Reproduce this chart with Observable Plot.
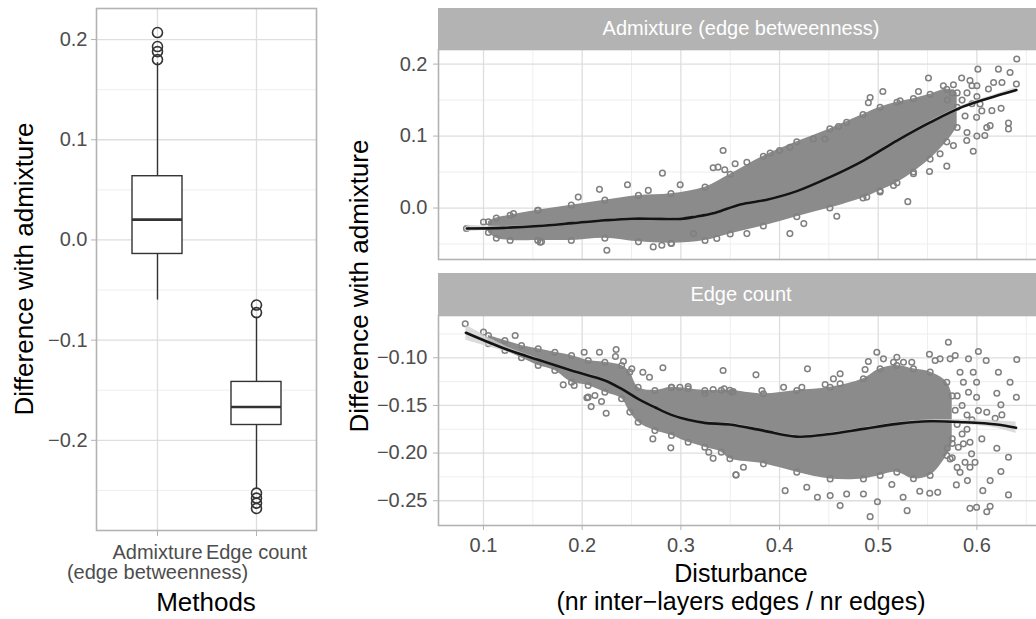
<!DOCTYPE html>
<html>
<head>
<meta charset="utf-8">
<script src="https://cdn.jsdelivr.net/npm/d3@7"></script>
<script src="https://cdn.jsdelivr.net/npm/@observablehq/plot@0.6"></script>
<style>
  html, body { margin: 0; padding: 0; background: #ffffff; overflow: hidden; }
  #c { position: relative; width: 1036px; height: 619px; overflow: hidden; background: #ffffff;
       font-family: "Liberation Sans", Arial, Helvetica, sans-serif; }
  .title { font-size: 26px; line-height: 26px; color: #000; text-align: center; white-space: nowrap; }
  .strip { background: #b3b3b3; color: #ffffff; font-size: 20px; display: flex; align-items: center; justify-content: center; white-space: nowrap; }
  svg { overflow: visible; }
</style>
</head>
<body>
<div id="c"></div>
<script>
// ---------------- Left panel: boxplot summary ----------------
const methods = ["Admixture (edge betweenness)", "Edge count"];
const methodLabels = ["Admixture\n(edge betweenness)", "Edge count"];
const boxQ1 = [-0.014, -0.1847];
const boxMedian = [0.0203, -0.1667];
const boxQ3 = [0.0636, -0.1417];
const boxWhiskerLo = [-0.060, -0.249];
const boxWhiskerHi = [0.177, -0.077];
const outlierMethod = [0, 0, 0, 0, 1, 1, 1, 1, 1, 1];
const outlierValue = [0.207, 0.193, 0.188, 0.180, -0.065, -0.0725, -0.2527, -0.2577, -0.2627, -0.268];
const leftMajor = [-0.2, -0.1, 0.0, 0.1, 0.2];
const leftMinor = [-0.25, -0.15, -0.05, 0.05, 0.15];

// ---------------- Right panels: scatter (dense band envelope + sparse points) + smooth ----------------
const xMajor = [0.1, 0.2, 0.3, 0.4, 0.5, 0.6];
const xMinor = [0.15, 0.25, 0.35, 0.45, 0.55, 0.65];

// Facet 1: Admixture (edge betweenness)
const topMajor = [0.0, 0.1, 0.2];
const topMinor = [-0.05, 0.05, 0.15];
const topEnvX  = [0.105, 0.113, 0.127, 0.155, 0.189, 0.223, 0.257, 0.290, 0.3245, 0.35, 0.3836, 0.4175, 0.451, 0.4846, 0.5019, 0.519, 0.5357, 0.5526, 0.5695, 0.58];
const topEnvHi = [-0.019, -0.014, -0.010, -0.003, 0.004, 0.011, 0.0176, 0.020, 0.029, 0.047, 0.072, 0.092, 0.110, 0.130, 0.140, 0.147, 0.152, 0.158, 0.165, 0.160];
const topEnvLo = [-0.034, -0.042, -0.045, -0.045, -0.045, -0.042, -0.047, -0.049, -0.045, -0.036, -0.025, -0.012, 0.000, 0.014, 0.024, 0.035, 0.050, 0.068, 0.092, 0.112];
const topPtsX = [0.0827, 0.1, 0.1304, 0.1554, 0.1574, 0.1588, 0.196, 0.2175, 0.225, 0.2459, 0.267, 0.2813, 0.2993, 0.272, 0.2807, 0.2905, 0.3128, 0.3364, 0.3428, 0.3327, 0.3377, 0.3445, 0.355, 0.3669, 0.3669, 0.3905, 0.40, 0.4105, 0.4105, 0.4246, 0.4343, 0.446, 0.458, 0.4597, 0.468, 0.4884, 0.49, 0.4918, 0.5047, 0.5019, 0.5155, 0.5222, 0.530, 0.5357, 0.5408, 0.5509, 0.552, 0.5627, 0.566, 0.5695, 0.5762, 0.5762, 0.5845, 0.5897, 0.593, 0.5963, 0.5997, 0.601, 0.6032, 0.608, 0.61, 0.6117, 0.6134, 0.6152, 0.6169, 0.6218, 0.6245, 0.6254, 0.632, 0.632, 0.6336, 0.640, 0.6404, 0.585, 0.59, 0.595, 0.60, 0.605, 0.58, 0.588, 0.595, 0.57, 0.575, 0.60, 0.59, 0.60];
const topPtsY = [-0.0285, -0.0194, -0.0078, -0.003, -0.0475, -0.047, 0.0152, 0.026, -0.0586, 0.0324, 0.0245, 0.0485, 0.0324, -0.054, -0.0517, -0.0493, -0.0355, -0.0424, 0.080, 0.056, 0.0568, 0.0532, 0.0615, 0.0637, -0.0355, 0.0765, 0.080, 0.0845, -0.0355, -0.0216, 0.0961, 0.096, -0.0115, 0.1132, 0.119, 0.0152, 0.1464, 0.1537, 0.162, 0.0222, 0.0314, 0.149, 0.0089, 0.0476, 0.162, 0.1806, 0.0508, 0.0753, 0.170, 0.0582, 0.1713, 0.0868, 0.1806, 0.0938, 0.1772, 0.079, 0.126, 0.193, 0.1446, 0.1007, 0.112, 0.1654, 0.1145, 0.1353, 0.1745, 0.193, 0.1385, 0.1745, 0.118, 0.110, 0.1884, 0.1723, 0.2072, 0.150, 0.160, 0.145, 0.155, 0.135, 0.140, 0.128, 0.170, 0.150, 0.160, 0.170, 0.105, 0.100];
const topSmoothX  = [0.083, 0.12, 0.155, 0.19, 0.223, 0.25, 0.28, 0.30, 0.315, 0.335, 0.36, 0.387, 0.4175, 0.451, 0.485, 0.519, 0.5526, 0.586, 0.62, 0.64];
const topSmoothY  = [-0.0285, -0.0275, -0.025, -0.021, -0.017, -0.0148, -0.0150, -0.0150, -0.012, -0.0065, 0.005, 0.0116, 0.0235, 0.043, 0.066, 0.0938, 0.119, 0.1409, 0.156, 0.164];
const topSmoothSe = [0.0045, 0.002, 0.0012, 0.001, 0.001, 0.001, 0.001, 0.001, 0.001, 0.001, 0.001, 0.001, 0.001, 0.001, 0.001, 0.0012, 0.0015, 0.002, 0.0025, 0.0035];

// Facet 2: Edge count
const botMajor = [-0.25, -0.20, -0.15, -0.10];
const botMinor = [-0.225, -0.175, -0.125, -0.075];
const botEnvX  = [0.105, 0.1217, 0.1385, 0.1554, 0.1723, 0.1892, 0.2061, 0.223, 0.240, 0.2483, 0.2567, 0.2737, 0.2905, 0.3074, 0.3243, 0.341, 0.3497, 0.3837, 0.4175, 0.4513, 0.485, 0.5019, 0.5189, 0.5357, 0.5526, 0.5695, 0.575];
const botEnvHi = [-0.0766, -0.0818, -0.0871, -0.0905, -0.0941, -0.0976, -0.1028, -0.1046, -0.108, -0.115, -0.131, -0.1343, -0.131, -0.1326, -0.1343, -0.134, -0.134, -0.1378, -0.1343, -0.131, -0.122, -0.1116, -0.108, -0.1116, -0.115, -0.1256, -0.14];
const botEnvLo = [-0.0853, -0.0923, -0.100, -0.108, -0.1133, -0.1256, -0.129, -0.1361, -0.143, -0.157, -0.1676, -0.1764, -0.1816, -0.1887, -0.1939, -0.199, -0.206, -0.2113, -0.220, -0.2271, -0.2271, -0.2236, -0.220, -0.227, -0.2236, -0.2026, -0.19];
const botPtsX = [0.0815, 0.1, 0.1321, 0.202, 0.2175, 0.2344, 0.2337, 0.2418, 0.2503, 0.2615, 0.2682, 0.2818, 0.2048, 0.2091, 0.2243, 0.2716, 0.2898, 0.3428, 0.3557, 0.3327, 0.3283, 0.2061, 0.2129, 0.2196, 0.1808, 0.1919, 0.2905, 0.299, 0.3074, 0.3243, 0.3327, 0.3439, 0.353, 0.3761, 0.4283, 0.4986, 0.49, 0.5053, 0.4867, 0.4614, 0.4546, 0.5189, 0.5256, 0.534, 0.5155, 0.5519, 0.5577, 0.5627, 0.5711, 0.578, 0.5729, 0.5915, 0.6015, 0.6094, 0.6404, 0.6218, 0.6336, 0.64, 0.6202, 0.6243, 0.6253, 0.6185, 0.61, 0.6202, 0.632, 0.6243, 0.6134, 0.606, 0.632, 0.593, 0.5997, 0.6134, 0.61, 0.5981, 0.593, 0.5904, 0.5792, 0.5603, 0.5522, 0.5293, 0.4918, 0.4992, 0.4614, 0.4384, 0.4057, 0.356, 0.3634, 0.5252, 0.5421, 0.468, 0.4513, 0.4276, 0.485, 0.5138, 0.5729, 0.5829, 0.588, 0.5863, 0.5997, 0.6015, 0.605, 0.5946, 0.5812, 0.593, 0.5963, 0.5829, 0.5863, 0.5997, 0.5915, 0.4041, 0.4226, 0.3821, 0.3517, 0.4462, 0.4614, 0.58, 0.585, 0.59, 0.58, 0.585, 0.59, 0.595, 0.578, 0.575, 0.57, 0.575, 0.58];
const botPtsY = [-0.0643, -0.0731, -0.0766, -0.0941, -0.0941, -0.0913, -0.0986, -0.1036, -0.1116, -0.1151, -0.1204, -0.1105, -0.142, -0.1512, -0.1582, -0.1851, -0.1945, -0.1133, -0.2229, -0.2055, -0.1992, -0.1413, -0.1396, -0.1459, -0.1284, -0.1291, -0.1309, -0.1309, -0.1302, -0.1372, -0.1333, -0.1326, -0.1354, -0.1179, -0.1116, -0.0941, -0.1039, -0.1011, -0.1123, -0.1168, -0.1221, -0.0994, -0.1046, -0.1046, -0.1046, -0.0962, -0.1028, -0.1011, -0.0836, -0.0976, -0.1011, -0.1011, -0.0934, -0.1028, -0.1018, -0.1151, -0.1256, -0.1414, -0.1372, -0.1494, -0.1599, -0.1634, -0.1571, -0.195, -0.2044, -0.2194, -0.2289, -0.2394, -0.2439, -0.258, -0.2569, -0.2559, -0.2615, -0.2097, -0.2149, -0.2289, -0.2334, -0.2412, -0.2422, -0.2604, -0.2667, -0.251, -0.2551, -0.2464, -0.2394, -0.2229, -0.2149, -0.2464, -0.2401, -0.2429, -0.2446, -0.2359, -0.2429, -0.2329, -0.2061, -0.2202, -0.2097, -0.1903, -0.1414, -0.1554, -0.1851, -0.2008, -0.1939, -0.1887, -0.1151, -0.1151, -0.1256, -0.1256, -0.1361, -0.1309, -0.1309, -0.1343, -0.1361, -0.128, -0.1273, -0.14, -0.15, -0.16, -0.17, -0.18, -0.175, -0.165, -0.155, -0.185, -0.195, -0.205, -0.215];
const botSmoothX  = [0.0822, 0.1217, 0.1554, 0.1892, 0.223, 0.240, 0.2567, 0.2737, 0.2905, 0.3074, 0.3243, 0.3497, 0.3837, 0.4175, 0.4513, 0.485, 0.5189, 0.5526, 0.5863, 0.6202, 0.6397];
const botSmoothY  = [-0.0737, -0.0905, -0.1021, -0.1133, -0.1238, -0.1326, -0.1431, -0.1519, -0.1599, -0.1651, -0.1683, -0.1700, -0.1764, -0.1827, -0.1800, -0.1746, -0.1693, -0.1666, -0.1676, -0.1700, -0.1735];
const botSmoothSe = [0.008, 0.003, 0.0015, 0.0012, 0.0012, 0.0012, 0.0012, 0.0012, 0.0012, 0.0012, 0.0012, 0.0012, 0.0012, 0.0012, 0.0012, 0.0012, 0.0012, 0.0015, 0.0025, 0.004, 0.006];

const xDomain = [0.0544, 0.6685];
const FONT = "'Liberation Sans', Arial, Helvetica, sans-serif";
const TICK_TEXT = "#4d4d4d", TICK_LINE = "#b3b3b3", BORDER = "#b3b3b3";
const GRID_MAJOR = "#dedede", GRID_MINOR = "#ececec";
const PT = "#808080";

(function () {
  const boxes = methods.map((m, i) => ({method: m, q1: boxQ1[i], med: boxMedian[i], q3: boxQ3[i], lo: boxWhiskerLo[i], hi: boxWhiskerHi[i]}));
  const outliers = outlierValue.map((v, i) => ({method: methods[outlierMethod[i]], value: v}));
  const zipEnv = (xs, lo, hi) => xs.map((x, i) => ({x, lo: lo[i], hi: hi[i]}));
  const zipPts = (xs, ys) => xs.map((x, i) => ({x, y: ys[i]}));
  const zipSm = (xs, ys, se) => xs.map((x, i) => ({x, y: ys[i], lo: ys[i] - se[i], hi: ys[i] + se[i]}));

  const c = document.getElementById("c");
  function place(el, l, t) {
    el.style.position = "absolute"; el.style.left = l + "px"; el.style.top = t + "px";
    c.appendChild(el);
  }

  // ---- Left boxplot panel
  const leftPlot = Plot.plot({
    width: 330, height: 590,
    marginLeft: 96, marginRight: 14, marginTop: 8, marginBottom: 60,
    style: {fontFamily: FONT, fontSize: "20px", background: "transparent", overflow: "visible"},
    x: {type: "band", domain: methods, paddingInner: 0.5, paddingOuter: 0.35, axis: null},
    y: {domain: [-0.29, 0.231], axis: null},
    marks: [
      Plot.gridY(leftMinor, {stroke: GRID_MINOR, strokeOpacity: 1, strokeWidth: 0.9}),
      Plot.gridY(leftMajor, {stroke: GRID_MAJOR, strokeOpacity: 1, strokeWidth: 1.3}),
      Plot.gridX(methods, {stroke: GRID_MAJOR, strokeOpacity: 1, strokeWidth: 1.3}),
      Plot.ruleX(boxes, {x: "method", y1: "lo", y2: "hi", stroke: "#333333", strokeWidth: 1.4}),
      Plot.barY(boxes, {x: "method", y1: "q1", y2: "q3", fill: "#ffffff", stroke: "#333333", strokeWidth: 1.4}),
      Plot.tickY(boxes, {x: "method", y: "med", stroke: "#333333", strokeWidth: 2.6}),
      Plot.dot(outliers, {x: "method", y: "value", r: 5, stroke: "#333333", strokeWidth: 1.6, fill: "none"}),
      Plot.frame({stroke: BORDER, strokeWidth: 1.6}),
      Plot.axisY(leftMajor, {tickSize: 5, tickPadding: 4, tickFormat: d3.format(".1f"), stroke: TICK_LINE, fill: TICK_TEXT, label: null}),
      Plot.axisX(methods, {tickSize: 6, tickPadding: 8, tickFormat: (d) => methodLabels[methods.indexOf(d)], stroke: TICK_LINE, fill: TICK_TEXT, label: null})
    ]
  });
  place(leftPlot, 0, 0);

  // ---- Right facet builder
  function facet({height, marginTop, marginBottom, yDomain, major, minor, env, pts, sm, showX, yFmt}) {
    return Plot.plot({
      width: 724, height, marginLeft: 108, marginRight: 10, marginTop, marginBottom,
      style: {fontFamily: FONT, fontSize: "20px", background: "transparent", overflow: "visible"},
      x: {domain: xDomain, axis: null},
      y: {domain: yDomain, axis: null},
      marks: [
        Plot.gridY(minor, {stroke: GRID_MINOR, strokeOpacity: 1, strokeWidth: 0.9}),
        Plot.gridX(xMinor, {stroke: GRID_MINOR, strokeOpacity: 1, strokeWidth: 0.9}),
        Plot.gridY(major, {stroke: GRID_MAJOR, strokeOpacity: 1, strokeWidth: 1.3}),
        Plot.gridX(xMajor, {stroke: GRID_MAJOR, strokeOpacity: 1, strokeWidth: 1.3}),
        Plot.areaY(env, {x: "x", y1: "lo", y2: "hi", fill: "#8b8b8b", curve: "catmull-rom"}),
        Plot.dot(env, {x: "x", y: "hi", r: 2.8, stroke: PT, strokeWidth: 1.5, fill: "none"}),
        Plot.dot(env, {x: "x", y: "lo", r: 2.8, stroke: PT, strokeWidth: 1.5, fill: "none"}),
        Plot.dot(pts, {x: "x", y: "y", r: 2.8, stroke: PT, strokeWidth: 1.5, fill: "none"}),
        Plot.areaY(sm, {x: "x", y1: "lo", y2: "hi", fill: "#cfcfcf", fillOpacity: 0.75, curve: "catmull-rom"}),
        Plot.line(sm, {x: "x", y: "y", stroke: "#141414", strokeWidth: 2.6, curve: "catmull-rom"}),
        Plot.frame({stroke: BORDER, strokeWidth: 1.6}),
        Plot.axisY(major, {tickSize: 5, tickPadding: 6, tickFormat: d3.format(yFmt), stroke: TICK_LINE, fill: TICK_TEXT, label: null}),
        showX ? Plot.axisX(xMajor, {tickSize: 5, tickPadding: 7, tickFormat: d3.format(".1f"), stroke: TICK_LINE, fill: TICK_TEXT, label: null}) : null
      ]
    });
  }

  const topPlot = facet({
    height: 262, marginTop: 49, marginBottom: 3, yDomain: [-0.0715, 0.2203],
    major: topMajor, minor: topMinor,
    env: zipEnv(topEnvX, topEnvLo, topEnvHi), pts: zipPts(topPtsX, topPtsY), sm: zipSm(topSmoothX, topSmoothY, topSmoothSe),
    showX: false, yFmt: ".1f"
  });
  place(topPlot, 330, 0);

  const botPlot = facet({
    height: 357, marginTop: 53, marginBottom: 94, yDomain: [-0.276, -0.0556],
    major: botMajor, minor: botMinor,
    env: zipEnv(botEnvX, botEnvLo, botEnvHi), pts: zipPts(botPtsX, botPtsY), sm: zipSm(botSmoothX, botSmoothY, botSmoothSe),
    showX: true, yFmt: ".2f"
  });
  place(botPlot, 330, 262);

  // ---- Strips
  function strip(text, l, t, w, h) {
    const d = document.createElement("div");
    d.className = "strip"; d.textContent = text;
    d.style.width = w + "px"; d.style.height = h + "px";
    place(d, l, t);
  }
  strip("Admixture (edge betweenness)", 438, 8, 606, 41);
  strip("Edge count", 438, 273, 606, 42);

  // ---- Titles (one element per line)
  function hTitle(text, cx, capCenter, size) {
    const d = document.createElement("div");
    d.className = "title"; d.textContent = text;
    d.style.width = "600px";
    d.style.fontSize = size + "px"; d.style.lineHeight = size + "px"; d.style.height = size + "px";
    place(d, cx - 300, capCenter - size / 2);
  }
  function vTitle(text, cx, cy) {
    const d = document.createElement("div");
    d.className = "title"; d.textContent = text;
    d.style.width = "500px"; d.style.height = "26px";
    d.style.transform = "rotate(-90deg)";
    place(d, cx - 250, cy - 13);
  }
  vTitle("Difference with admixture", 24, 269);
  vTitle("Difference with admixture", 359, 286);
  hTitle("Methods", 206, 602, 26);
  hTitle("Disturbance", 741, 573, 25);
  hTitle("(nr inter\u2212layers edges / nr edges)", 741, 601, 25);
})();
</script>
</body>
</html>
